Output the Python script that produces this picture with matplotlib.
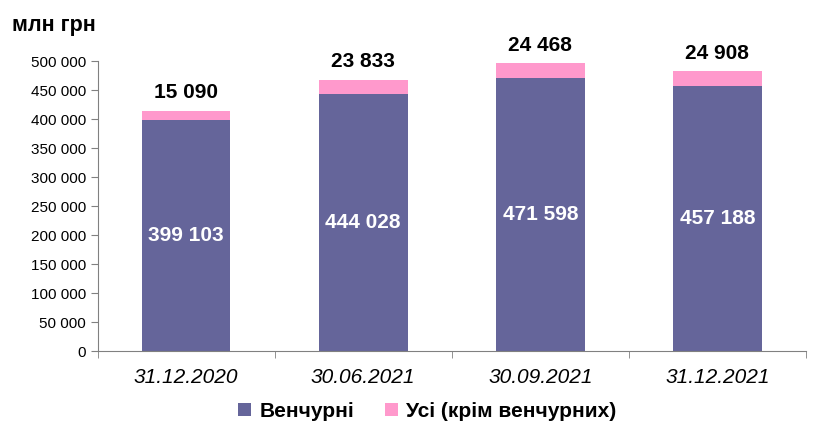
import matplotlib.pyplot as plt
import numpy as np

plt.rcParams['font.family'] = ['Liberation Sans', 'DejaVu Sans']

dates = ['31.12.2020', '30.06.2021', '30.09.2021', '31.12.2021']
venture = [399103, 444028, 471598, 457188]
other = [15090, 23833, 24468, 24908]

c_vent = '#65659a'
c_other = '#ff99cc'


def fmt(v):
    return '{:,}'.format(int(v)).replace(',', ' ')


fig = plt.figure(figsize=(8.14, 4.21), dpi=100)
ax = fig.add_axes([0.12, 0.166, 0.87, 0.689])

x = np.arange(len(dates))
ax.bar(x, venture, width=0.5, color=c_vent, label='Венчурні')
ax.bar(x, other, width=0.5, bottom=venture, color=c_other, label='Усі (крім венчурних)')

for i in range(len(dates)):
    ax.text(x[i], venture[i] / 2, fmt(venture[i]), ha='center', va='center',
            color='white', fontsize=15, fontweight='bold')
    ax.text(x[i], venture[i] + other[i] + 15000, fmt(other[i]), ha='center', va='bottom',
            color='black', fontsize=15, fontweight='bold')

ax.set_xlim(-0.5, len(dates) - 0.5)
ax.set_ylim(0, 500000)
ax.set_yticks(np.arange(0, 500001, 50000))
ax.set_yticklabels([fmt(v) for v in np.arange(0, 500001, 50000)], fontsize=11)
ax.set_xticks(x)
ax.set_xticklabels(dates, fontsize=15, style='italic')
ax.tick_params(axis='x', length=0, pad=12)
ax.set_xticks(np.arange(-0.5, len(dates), 1), minor=True)
ax.tick_params(axis='x', which='minor', length=5, color='#808080')
ax.tick_params(axis='y', length=5, color='#808080')

for s in ['top', 'right']:
    ax.spines[s].set_visible(False)
ax.spines['left'].set_color('#808080')
ax.spines['bottom'].set_color('#808080')

fig.text(0.015, 0.94, 'млн грн', fontsize=15.5, fontweight='bold', ha='left', va='center')

fig.legend(loc='lower center', bbox_to_anchor=(0.525, -0.045), ncol=2, frameon=False,
           prop={'weight': 'bold', 'size': 15}, handlelength=0.6, handleheight=0.6,
           handletextpad=0.4, columnspacing=1.5)

fig.savefig('out.png', dpi=100)
